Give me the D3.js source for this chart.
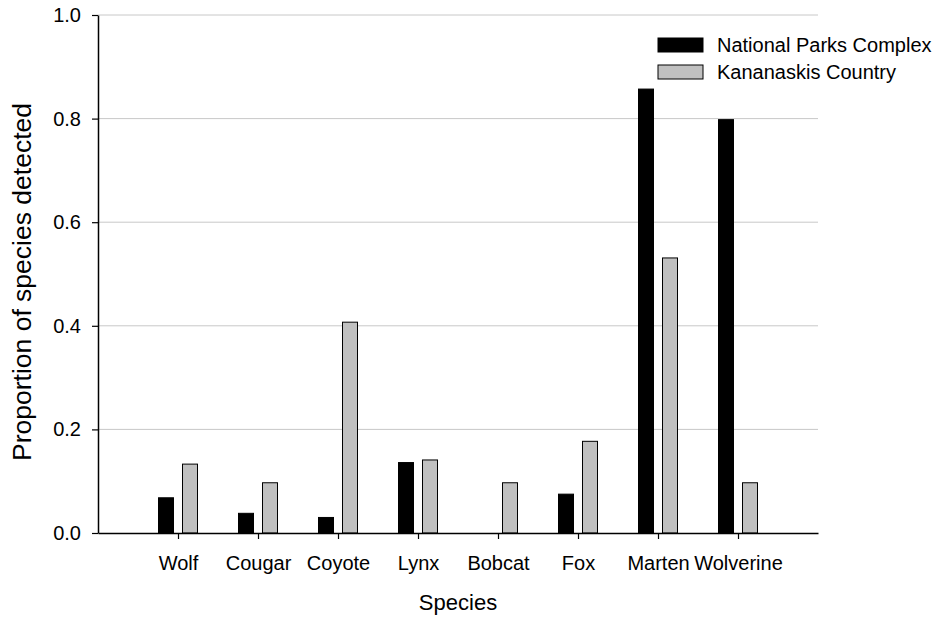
<!DOCTYPE html>
<html>
<head>
<meta charset="utf-8">
<script src="https://cdn.jsdelivr.net/npm/d3@7"></script>
<style>
  body { margin: 0; background: #fff; }
  svg { font-family: "Liberation Sans", Arial, sans-serif; }
</style>
</head>
<body>
<div id="chart"></div>
<script>
// Data
var species = ["Wolf", "Cougar", "Coyote", "Lynx", "Bobcat", "Fox", "Marten", "Wolverine"];
var parks = [0.068, 0.038, 0.030, 0.136, 0, 0.075, 0.857, 0.798];
var kananaskis = [0.133, 0.097, 0.407, 0.141, 0.097, 0.177, 0.531, 0.097];
var yTicks = [0.0, 0.2, 0.4, 0.6, 0.8, 1.0];
var seriesNames = ["National Parks Complex", "Kananaskis Country"];
var seriesColors = ["#000000", "#c0c0c0"];

var width = 936, height = 619;
var margin = {left: 98, right: 118, top: 15, bottom: 86};

var svg = d3.select("#chart").append("svg")
    .attr("width", width)
    .attr("height", height);

var chart = svg.append("g")
    .attr("transform", "translate(" + margin.left + "," + margin.top + ")");

var w = width - margin.left - margin.right;
var h = height - margin.top - margin.bottom;

// categories sit at 1..8 on a 0..9 axis
var x = d3.scaleLinear().domain([0, species.length + 1]).range([0, w]);
var y = d3.scaleLinear().domain([0, 1]).range([h, 0]);

// grid lines
chart.append("g")
    .selectAll("line")
    .data(yTicks.filter(function(d) { return d > 0; }))
    .enter().append("line")
    .attr("x1", 0).attr("x2", w)
    .attr("y1", function(d) { return y(d); })
    .attr("y2", function(d) { return y(d); })
    .attr("stroke", "#c8c8c8")
    .attr("stroke-width", 1);

// bars
var barW = 15;
var rows = species.map(function(s, i) { return {name: s, i: i, v: [parks[i], kananaskis[i]]}; });

var groups = chart.append("g").selectAll("g")
    .data(rows)
    .enter().append("g");

groups.selectAll("rect")
    .data(function(d) {
        return d.v.map(function(v, k) { return {i: d.i, k: k, v: v}; });
    })
    .enter().append("rect")
    .filter(function(d) { return d.v > 0; })
    .attr("x", function(d) { return x(d.i + 1) + (d.k === 0 ? -barW - 4.5 : 4.5); })
    .attr("y", function(d) { return y(d.v); })
    .attr("width", barW)
    .attr("height", function(d) { return h - y(d.v); })
    .attr("fill", function(d) { return seriesColors[d.k]; })
    .attr("stroke", "#000")
    .attr("stroke-width", 1);

// y axis
var yAxis = d3.axisLeft(y)
    .tickValues(yTicks)
    .tickFormat(d3.format(".1f"))
    .tickSize(6)
    .tickSizeOuter(0);

var gy = chart.append("g").call(yAxis);
gy.select(".domain").attr("stroke-width", 1.5);
gy.selectAll("text").attr("font-size", 20).attr("fill", "#000").attr("x", -17);
gy.selectAll(".tick line").attr("stroke-width", 1.2);

// x axis
var xAxis = d3.axisBottom(x)
    .tickValues(d3.range(1, species.length + 1))
    .tickFormat(function(d) { return species[d - 1]; })
    .tickSize(6)
    .tickSizeOuter(0);

var gx = chart.append("g")
    .attr("transform", "translate(0," + h + ")")
    .call(xAxis);
gx.select(".domain").attr("stroke-width", 1.5);
gx.selectAll(".tick line").attr("stroke-width", 1.2);
gx.selectAll("text").attr("font-size", 20).attr("fill", "#000")
    .attr("y", 37).attr("dy", 0);

// axis titles
svg.append("text")
    .attr("x", margin.left + w / 2)
    .attr("y", 610)
    .attr("text-anchor", "middle")
    .attr("font-size", 22)
    .text("Species");

svg.append("text")
    .attr("transform", "translate(31,282) rotate(-90)")
    .attr("text-anchor", "middle")
    .attr("font-size", 26.5)
    .text("Proportion of species detected");

// legend
var legend = svg.append("g").attr("transform", "translate(658,38)");
var li = legend.selectAll("g")
    .data(seriesNames)
    .enter().append("g")
    .attr("transform", function(d, i) { return "translate(0," + (i * 27) + ")"; });
li.append("rect")
    .attr("width", 45).attr("height", 14)
    .attr("fill", function(d, i) { return seriesColors[i]; })
    .attr("stroke", "#000");
li.append("text")
    .attr("x", 59).attr("y", 14)
    .attr("font-size", 20)
    .text(function(d) { return d; });
</script>
</body>
</html>
